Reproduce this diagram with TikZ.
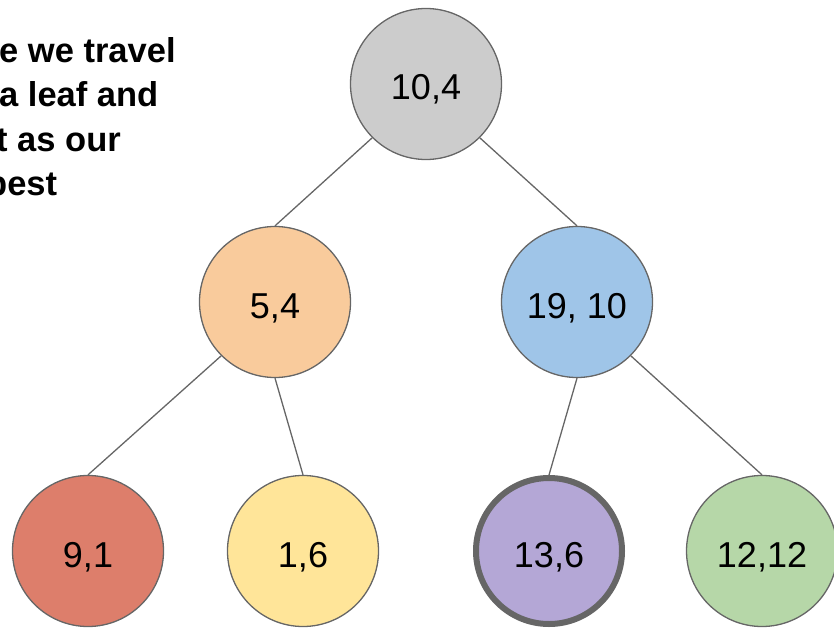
\documentclass[tikz,border=0pt]{standalone}
\usepackage{fontspec}
\setmainfont{Liberation Sans}
\usetikzlibrary{positioning}
\definecolor{rootgray}{HTML}{CCCCCC}
\definecolor{peach}{HTML}{F9CB9C}
\definecolor{skyblue}{HTML}{9FC5E8}
\definecolor{brick}{HTML}{DD7E6B}
\definecolor{butter}{HTML}{FFE599}
\definecolor{lilac}{HTML}{B4A7D6}
\definecolor{sage}{HTML}{B6D7A8}
\definecolor{rim}{HTML}{666666}

\begin{document}
\begin{tikzpicture}[x=1pt,y=-1pt,
        tnode/.style={circle, draw=rim, line width=1.3pt, minimum size=151pt,
            inner sep=0pt, text height=34pt, text depth=2pt,
            font=\fontsize{36}{40}\selectfont},
        best/.style={line width=6pt, minimum size=146pt},
        edge/.style={draw=rim, line width=1.3pt}]
        \useasboundingbox (0,0) rectangle (834,628);
        \clip (0,0) rectangle (834,628);

        % Texte
        \node[anchor=north west, align=left, inner sep=0pt,
            font=\bfseries\fontsize{34.5}{44.5}\selectfont] (note) at (-1,37)
            {e we travel\\a leaf and\\\hspace*{-3pt}t as our\\\hspace*{-13pt}best};

        % Racine
        \node[tnode, fill=rootgray] (n104) at (426,84) {10,4};

        % Niveau 1
        \node[tnode, fill=peach] (n54) at (275,302) {5,4};
        \node[tnode, fill=skyblue] (n1910) at (577,302) {19, 10};

        % Feuilles
        \node[tnode, fill=brick] (n91) at (88,551) {9,1};
        \node[tnode, fill=butter] (n16) at (303,551) {1,6};
        \node[tnode, best, fill=lilac] (n136) at (549,551) {13,6};
        \node[tnode, fill=sage] (n1212) at (762,551) {12,12};

        % Aretes
        \draw[edge] (n104.south west) -- (n54.north);
        \draw[edge] (n104.south east) -- (n1910.north);
        \draw[edge] (n54.south west) -- (n91.north);
        \draw[edge] (n54.south) -- (n16.north);
        \draw[edge] (n1910.south) -- (n136.north);
        \draw[edge] (n1910.south east) -- (n1212.north);
    \end{tikzpicture}
\end{document}
